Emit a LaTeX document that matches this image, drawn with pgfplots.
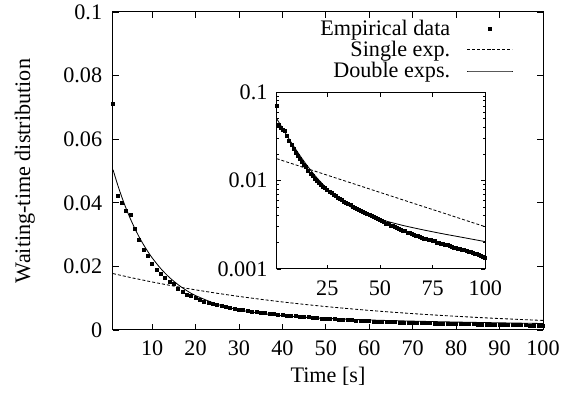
\documentclass[border=0pt]{standalone}
\usepackage{fontspec}
\setmainfont{Liberation Serif}
\usepackage{pgfplots}
\usepackage{pgfplotstable}
\pgfplotsset{compat=1.18}

\pgfplotstableread{
x y
1 0.0712
2 0.0423
3 0.0401
4 0.0375
5 0.0362
6 0.0318
7 0.0282
8 0.0253
9 0.0232
10 0.0209
11 0.0189
12 0.0176
13 0.0163
14 0.0150
15 0.0144
16 0.0130
17 0.0119
18 0.0112
19 0.0106
20 0.0100
21 0.0094
22 0.00897
23 0.00862
24 0.00823
25 0.00792
26 0.00756
27 0.00729
28 0.00695
29 0.00670
30 0.00646
31 0.00622
32 0.00605
33 0.00581
34 0.00566
35 0.00544
36 0.00530
37 0.00508
38 0.00497
39 0.00482
40 0.00471
41 0.00456
42 0.00446
43 0.00430
44 0.00422
45 0.00408
46 0.00399
47 0.00387
48 0.00378
49 0.00366
50 0.00358
51 0.00347
52 0.00339
53 0.00328
54 0.00322
55 0.00311
56 0.00306
57 0.00297
58 0.00292
59 0.00284
60 0.00279
61 0.00271
62 0.00267
63 0.00259
64 0.00255
65 0.00248
66 0.00246
67 0.00239
68 0.00237
69 0.00231
70 0.00228
71 0.00222
72 0.00220
73 0.00214
74 0.00212
75 0.00207
76 0.00206
77 0.00200
78 0.00199
79 0.00194
80 0.00192
81 0.00187
82 0.00186
83 0.00181
84 0.00180
85 0.00175
86 0.00174
87 0.00170
88 0.00169
89 0.00165
90 0.00163
91 0.00160
92 0.00158
93 0.00155
94 0.00152
95 0.00149
96 0.00147
97 0.00143
98 0.00141
99 0.00138
100 0.00135
}\empdata

\pgfplotstableread{
x y
1 0.01774
5 0.01651
10 0.01510
15 0.01380
20 0.01262
25 0.01154
30 0.01055
35 0.00965
40 0.00882
45 0.00806
50 0.00737
55 0.00674
60 0.00616
65 0.00563
70 0.00515
75 0.00471
80 0.00431
85 0.00394
90 0.00360
95 0.00329
100 0.00301
}\singleexp

\pgfplotstableread{
x y
1 0.05043
2 0.04596
3 0.04191
4 0.03827
5 0.03498
6 0.03200
7 0.02931
8 0.02689
9 0.02470
10 0.02271
12 0.01930
14 0.01651
16 0.01424
18 0.01236
20 0.01083
25 0.00807
30 0.00635
35 0.00525
40 0.00452
45 0.00402
50 0.00365
60 0.00315
70 0.00279
80 0.00250
90 0.00226
100 0.00204
}\doubleexp

\begin{document}
\begin{tikzpicture}[font=\fontsize{13.3}{15.5}\selectfont]
\pgfplotsset{
  every axis/.append style={
    scale only axis,
    tick align=inside,
    axis line style={line width=0.6pt},
    every tick/.style={black, line width=0.5pt},
  },
  emp/.style={only marks, mark=square*, mark size=0.9pt, black},
  sing/.style={no marks, black, line width=0.5pt, dash pattern=on 1.8pt off 1.2pt},
  doub/.style={no marks, black, line width=0.5pt},
}
\begin{axis}[
  at={(0pt,0pt)}, anchor=south west,
  width=258pt, height=190.8pt,
  xmin=1, xmax=100, ymin=0, ymax=0.1,
  xtick={10,20,30,40,50,60,70,80,90,100},
  xticklabels={10,20,30,40,50,60,70,80,90,100},
  ytick={0,0.02,0.04,0.06,0.08,0.1},
  yticklabels={0,0.02,0.04,0.06,0.08,0.1},
  major tick length=3.6pt,
  xlabel={Time [s]}, ylabel={Waiting-time distribution},
  xlabel style={at={(axis description cs:0.5,-0.145)}, anchor=center},
  ylabel style={at={(axis description cs:-0.205,0.5)}, anchor=center},
  xticklabel style={yshift=-3.2pt},
  yticklabel style={xshift=-3pt},
  legend style={draw=none, fill=none, at={(axis description cs:0.942,0.998)}, anchor=north east,
    legend cell align=right, row sep=-2pt, column sep=8pt, font=\fontsize{13.3}{15.5}\selectfont},
  legend plot pos=right,
  legend image code/.code={\draw[mark repeat=2,mark phase=2,#1] plot coordinates {(0pt,0pt) (13.5pt,0pt) (27pt,0pt)};},
]
\addplot[emp] table[x=x,y=y] {\empdata};
\addlegendentry{Empirical data}
\addplot[sing] table[x=x,y=y] {\singleexp};
\addlegendentry{Single exp.}
\addplot[doub, smooth] table[x=x,y=y] {\doubleexp};
\addlegendentry{Double exps.}
\end{axis}
\begin{axis}[
  at={(98.2pt,36.6pt)}, anchor=south west,
  width=125.2pt, height=106pt,
  axis background/.style={fill=white},
  xmin=1, xmax=100, ymode=log, ymin=0.001, ymax=0.1,
  xtick={25,50,75,100}, xticklabels={25,50,75,100},
  ytick={0.001,0.01,0.1}, yticklabels={0.001,0.01,0.1},
  major tick length=2.6pt, minor tick length=1.4pt,
  xticklabel style={yshift=-3.8pt},
  yticklabel style={xshift=-2pt},
]
\addplot[emp] table[x=x,y=y] {\empdata};
\addplot[sing, smooth] table[x=x,y=y] {\singleexp};
\addplot[doub, smooth] table[x=x,y=y] {\doubleexp};
\end{axis}
\pgfresetboundingbox
\path[use as bounding box] (-67.8pt,-39pt) rectangle (274.2pt,198pt);
\end{tikzpicture}
\end{document}
